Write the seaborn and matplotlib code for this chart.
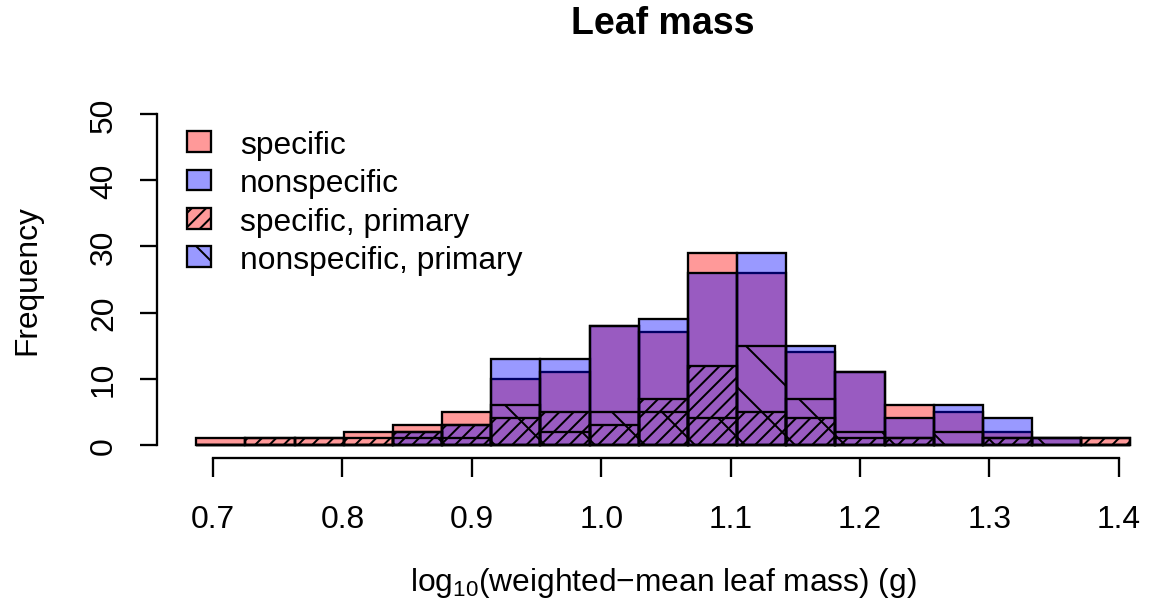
import numpy as np
import pandas as pd
import matplotlib
matplotlib.use("Agg")
import matplotlib.pyplot as plt
from matplotlib.patches import Patch
import seaborn as sns

# ---- data ----
bin_edges = [0.687, 0.725, 0.763, 0.801, 0.839, 0.877, 0.915, 0.953, 0.991, 1.029,
             1.067, 1.105, 1.143, 1.181, 1.219, 1.257, 1.295, 1.333, 1.371, 1.409]
specific = [1, 1, 1, 2, 3, 5, 10, 11, 18, 17, 29, 26, 14, 11, 6, 5, 2, 1, 1]
nonspecific = [0, 0, 0, 0, 2, 3, 13, 13, 18, 19, 26, 29, 15, 11, 4, 6, 4, 1, 0]
specific_primary = [0, 1, 1, 1, 2, 3, 4, 5, 3, 7, 12, 5, 4, 1, 1, 0, 1, 0, 1]
nonspecific_primary = [0, 0, 0, 0, 1, 1, 6, 2, 5, 5, 4, 15, 7, 2, 1, 2, 1, 1, 0]
legend_labels = ["specific", "nonspecific", "specific, primary", "nonspecific, primary"]
x_ticks = [0.7, 0.8, 0.9, 1.0, 1.1, 1.2, 1.3, 1.4]
y_ticks = [0, 10, 20, 30, 40, 50]

DPI = 300
W, H = 1150, 609


def pt(v):
    """pixels -> points"""
    return v * 72.0 / DPI


sns.set_style("white")
plt.rcParams["font.family"] = ["Liberation Sans", "DejaVu Sans"]
plt.rcParams["mathtext.fontset"] = "custom"
plt.rcParams["mathtext.rm"] = "Liberation Sans"
plt.rcParams["hatch.linewidth"] = pt(2.0)
plt.rcParams["text.color"] = "black"
plt.rcParams["xtick.color"] = "black"
plt.rcParams["ytick.color"] = "black"
plt.rcParams["xtick.bottom"] = True
plt.rcParams["ytick.left"] = True

FS = pt(31.8)
HATCH_SPEC = "///////"
HATCH_NONSPEC = "\\\\"

fig = plt.figure(figsize=(W / DPI, H / DPI), dpi=DPI)
fig.patch.set_facecolor("white")

# axes placed in pixel terms
left_px, right_px, bottom_px, top_px = 157, 1150, 459.2, 101.8
ax = fig.add_axes([left_px / W, 1 - bottom_px / H, (right_px - left_px) / W,
                   (bottom_px - top_px) / H])
ax.set_facecolor("white")

centers = [(a + b) / 2 for a, b in zip(bin_edges[:-1], bin_edges[1:])]
df = pd.DataFrame({"center": centers, "specific": specific,
                   "nonspecific": nonspecific,
                   "specific_primary": specific_primary,
                   "nonspecific_primary": nonspecific_primary})

red_fc = (1, 0, 0, 0.4)
blue_fc = (0, 0, 1, 0.4)
lw = pt(2.3)

sns.histplot(data=df, x="center", weights="specific", bins=bin_edges, ax=ax,
             facecolor=red_fc, edgecolor="black", linewidth=lw)
sns.histplot(data=df, x="center", weights="nonspecific", bins=bin_edges, ax=ax,
             facecolor=blue_fc, edgecolor="black", linewidth=lw)
sns.histplot(data=df, x="center", weights="specific_primary", bins=bin_edges, ax=ax,
             facecolor="none", edgecolor="black", linewidth=lw, hatch=HATCH_SPEC)
sns.histplot(data=df, x="center", weights="nonspecific_primary", bins=bin_edges, ax=ax,
             facecolor="none", edgecolor="black", linewidth=lw, hatch=HATCH_NONSPEC)

# scale like R (usr extents)
ax.set_xlim(0.7 + (left_px - 213) / 1294, 0.7 + (right_px - 213) / 1294)
ax.set_ylim(-2, 52)

for s in ["top", "right"]:
    ax.spines[s].set_visible(False)
ax.spines["left"].set_bounds(0, 50)
ax.spines["bottom"].set_bounds(0.7, 1.4)
for s in ["left", "bottom"]:
    ax.spines[s].set_linewidth(lw)
    ax.spines[s].set_color("black")

ax.set_xticks(x_ticks)
ax.set_xticklabels([f"{v:.1f}" for v in x_ticks])
ax.set_yticks(y_ticks)
ax.set_yticklabels([str(v) for v in y_ticks], rotation=90, va="center")
ax.tick_params(axis="x", which="major", bottom=True, direction="out",
               length=pt(19), width=lw, labelsize=FS, pad=pt(27),
               colors="black")
ax.tick_params(axis="y", which="major", left=True, direction="out",
               length=pt(17), width=lw, labelsize=FS, pad=pt(21),
               colors="black")
ax.set_xlabel("")
ax.set_ylabel("")
ax.grid(False)

# titles / labels in figure pixel coords
fig.text(662.5 / W, 1 - 24 / H, "Leaf mass", ha="center", va="center",
         fontsize=pt(37.5), fontweight="bold", color="black")
fig.text(663 / W, 1 - 583 / H,
         r"log$\mathregular{_{10}}$(weighted−mean leaf mass) (g)",
         ha="center", va="center", fontsize=FS, color="black")
fig.text(27 / W, 1 - 280 / H, "Frequency", ha="center", va="center",
         rotation=90, fontsize=FS, color="black")

handles = [
    Patch(facecolor=red_fc, edgecolor="black", linewidth=lw),
    Patch(facecolor=blue_fc, edgecolor="black", linewidth=lw),
    Patch(facecolor=red_fc, edgecolor="black", linewidth=lw, hatch=HATCH_SPEC),
    Patch(facecolor=blue_fc, edgecolor="black", linewidth=lw, hatch=HATCH_NONSPEC),
]
leg = fig.legend(handles, legend_labels, loc="upper left",
                 bbox_to_anchor=(187 / W, 1 - 131 / H), frameon=False,
                 fontsize=FS, borderpad=0, borderaxespad=0,
                 handlelength=24 / 31.8, handleheight=20 / 31.8,
                 handletextpad=(240 - 211) / 31.8, labelspacing=0.26)
for t in leg.get_texts():
    t.set_color("black")

fig.savefig("out.png", dpi=DPI, facecolor="white")
